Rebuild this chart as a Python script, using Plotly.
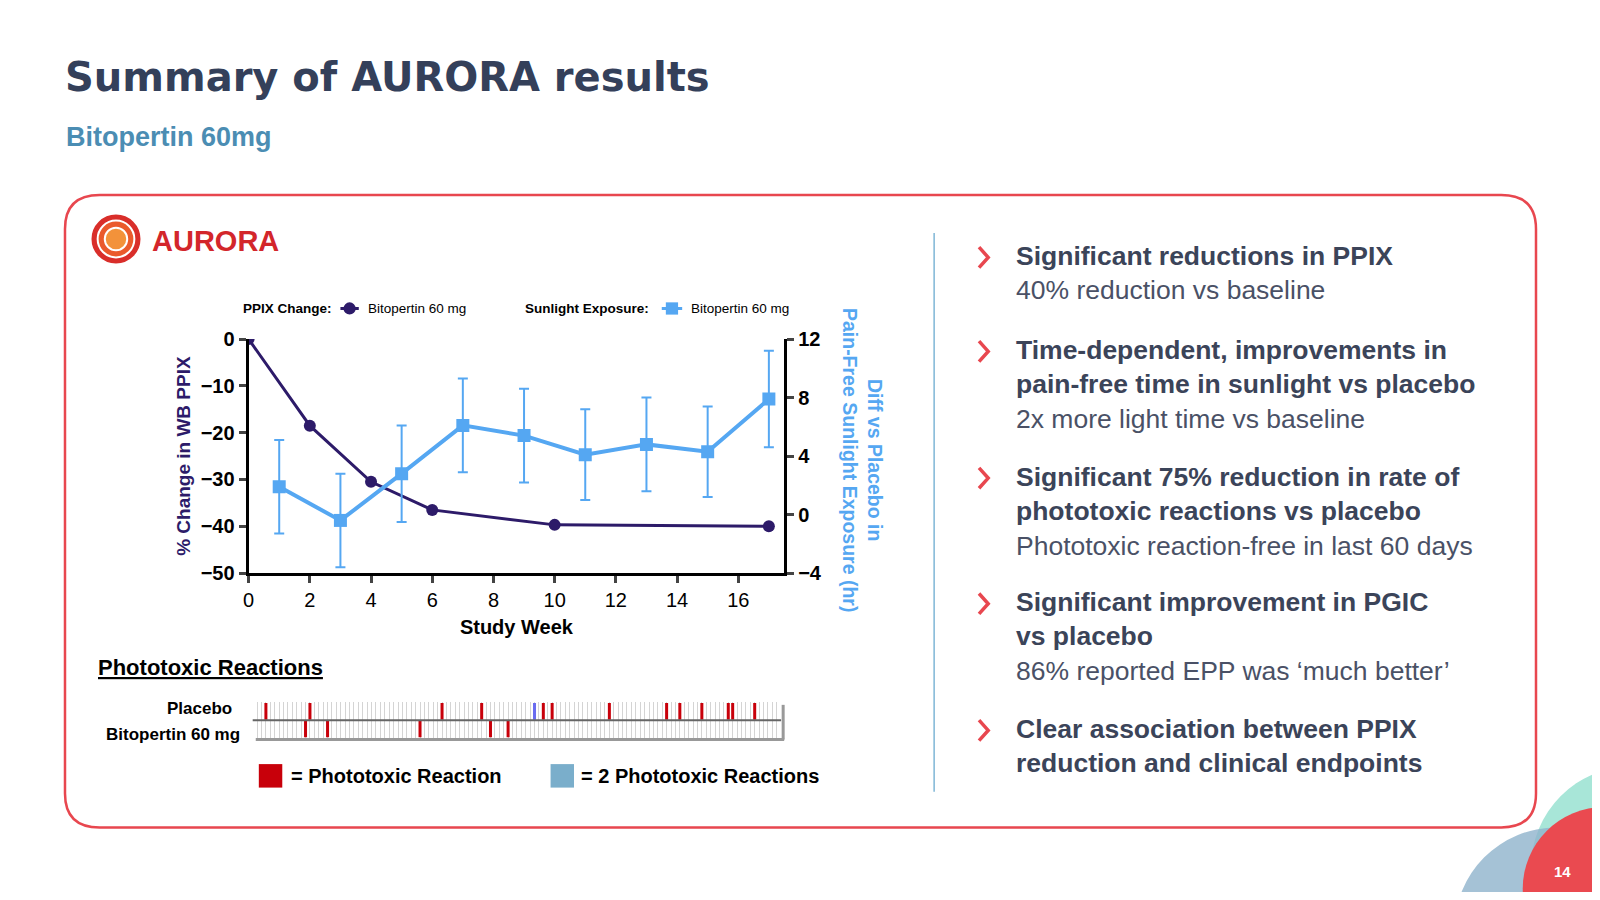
import plotly.graph_objects as go

# PPIX change (% change in whole-blood PPIX)
ppix_week = [0, 2, 4, 6, 10, 17]
ppix_change = [0, -18.5, -30.5, -36.5, -39.7, -40.0]

# Sunlight exposure diff vs placebo (hr)
sun_week = [1, 3, 5, 7, 9, 11, 13, 15, 17]
sun_diff = [1.9, -0.4, 2.8, 6.1, 5.4, 4.1, 4.8, 4.3, 7.9]
sun_err = [3.2, 3.2, 3.3, 3.2, 3.2, 3.1, 3.2, 3.1, 3.3]

# Phototoxic reaction days (strip covers ~120 days)
placebo_days = [3, 13, 43, 52, 66, 68, 81, 94, 97, 102, 108, 109, 114]
placebo_double_days = [64]
bito_days = [12, 17, 38, 54, 58]

bullets = [
    ("Significant reductions in PPIX", "40% reduction vs baseline"),
    ("Time-dependent, improvements in<br>pain-free time in sunlight vs placebo", "2x more light time vs baseline"),
    ("Significant 75% reduction in rate of<br>phototoxic reactions vs placebo", "Phototoxic reaction-free in last 60 days"),
    ("Significant improvement in PGIC<br>vs placebo", "86% reported EPP was \u2018much better\u2019"),
    ("Clear association between PPIX<br>reduction and clinical endpoints", None),
]
bullet_y = [252, 344, 468, 591, 715]

# reference pixel -> paper fraction (fitted to how the page renders)
FW, FH = 1584, 884
def X(px):
    px = (px - 5.2) / 0.9965
    return (px * 1600 / 1568 - 8) / FW
def Y(py):
    py = (py - 11) / 0.974
    return 1 - (py * 900 / 882 - 8) / FH

DARK = "#2d1b69"
LIGHT = "#55a7f2"
RED = "#c8000a"
TXT = "#3b4459"

fig = go.Figure()

fig.add_trace(go.Scatter(x=ppix_week, y=ppix_change, mode="lines+markers",
                         line=dict(color=DARK, width=3), marker=dict(size=12, color=DARK),
                         xaxis="x", yaxis="y", showlegend=False))
fig.add_trace(go.Scatter(x=sun_week, y=sun_diff, mode="lines+markers",
                         line=dict(color=LIGHT, width=4), marker=dict(size=13, symbol="square", color=LIGHT),
                         error_y=dict(type="data", array=sun_err, color=LIGHT, thickness=2, width=5),
                         xaxis="x", yaxis="y2", showlegend=False))

# phototoxic strip
fig.add_trace(go.Scatter(x=placebo_days, y=[1] * len(placebo_days), mode="markers",
                         marker=dict(symbol="line-ns", size=12, line=dict(color=RED, width=3)),
                         xaxis="x2", yaxis="y3", showlegend=False))
fig.add_trace(go.Scatter(x=placebo_double_days, y=[1], mode="markers",
                         marker=dict(symbol="line-ns", size=12, line=dict(color="#6a6cf0", width=3)),
                         xaxis="x2", yaxis="y3", showlegend=False))
fig.add_trace(go.Scatter(x=bito_days, y=[0] * len(bito_days), mode="markers",
                         marker=dict(symbol="line-ns", size=12, line=dict(color=RED, width=3)),
                         xaxis="x2", yaxis="y3", showlegend=False))

tickfont = dict(family="Liberation Sans", size=20, color="black")
axis_common = dict(showgrid=False, zeroline=False, showline=True, linecolor="black", linewidth=3,
                   ticks="outside", ticklen=7, tickwidth=3, tickfont=tickfont,
                   tickprefix="<b>", ticksuffix="</b>")
fig.update_layout(
    width=FW, height=FH, margin=dict(l=0, r=0, t=0, b=0),
    paper_bgcolor="white", plot_bgcolor="rgba(0,0,0,0)",
    font=dict(family="Liberation Sans"),
    xaxis=dict(domain=[X(243), X(768)], range=[0, 17.5], tickvals=list(range(0, 17, 2)),
               title=dict(text="<b>Study Week</b>", font=dict(size=20, color="black"), standoff=10),
               **axis_common),
    yaxis=dict(domain=[Y(561), Y(332)], range=[-50, 0], dtick=10,
               title=dict(text="<b>% Change in WB PPIX</b>", font=dict(size=19, color=DARK), standoff=6),
               **axis_common),
    yaxis2=dict(overlaying="y", side="right", anchor="x", range=[-4, 12], dtick=4, **axis_common),
    xaxis2=dict(domain=[X(247), X(765)], range=[0, 120], anchor="y3", showticklabels=False,
                showgrid=True, gridcolor="#d4d4d4", gridwidth=1, dtick=1, zeroline=False,
                showline=False, ticks=""),
    yaxis3=dict(domain=[Y(723), Y(687)], range=[-0.55, 1.55], anchor="x2", showticklabels=False,
                showgrid=False, zeroline=False, fixedrange=True),
)

shapes = []
# rounded red box
x0, y0, x1, y1, r = X(63), Y(191), X(1505), Y(810), 0.022
ry = r * FW / FH
shapes.append(dict(type="path", xref="paper", yref="paper",
                   path=f"M {x0+r},{y0} L {x1-r},{y0} Q {x1},{y0} {x1},{y0-ry} L {x1},{y1+ry} "
                        f"Q {x1},{y1} {x1-r},{y1} L {x0+r},{y1} Q {x0},{y1} {x0},{y1+ry} "
                        f"L {x0},{y0-ry} Q {x0},{y0} {x0+r},{y0} Z",
                   line=dict(color="#e8474f", width=2.5), fillcolor="rgba(0,0,0,0)"))
shapes.append(dict(type="line", xref="paper", yref="paper", x0=X(915), x1=X(915), y0=Y(228), y1=Y(775),
                   line=dict(color="#7fb6d6", width=1.5)))
# strip frame and divider
shapes.append(dict(type="line", xref="paper", yref="paper", x0=X(247), x1=X(765), y0=Y(705), y1=Y(705),
                   line=dict(color="#666", width=2)))
shapes.append(dict(type="line", xref="paper", yref="paper", x0=X(250), x1=X(768), y0=Y(724), y1=Y(724),
                   line=dict(color="#999", width=3)))
shapes.append(dict(type="line", xref="paper", yref="paper", x0=X(767), x1=X(767), y0=Y(690), y1=Y(724),
                   line=dict(color="#999", width=3)))
# legend squares
shapes.append(dict(type="rect", xref="paper", yref="paper", x0=X(253), x1=X(276), y0=Y(771), y1=Y(748),
                   fillcolor=RED, line=dict(width=0)))
shapes.append(dict(type="rect", xref="paper", yref="paper", x0=X(539), x1=X(562), y0=Y(771), y1=Y(748),
                   fillcolor="#7aaecb", line=dict(width=0)))
# chart legend symbols
shapes.append(dict(type="line", xref="paper", yref="paper", x0=X(333), x1=X(351), y0=Y(302), y1=Y(302),
                   line=dict(color=DARK, width=3)))
shapes.append(dict(type="circle", xref="paper", yref="paper", x0=X(336), x1=X(348), y0=Y(308), y1=Y(296),
                   fillcolor=DARK, line=dict(width=0)))
shapes.append(dict(type="line", xref="paper", yref="paper", x0=X(648), x1=X(668), y0=Y(302), y1=Y(302),
                   line=dict(color=LIGHT, width=3)))
shapes.append(dict(type="rect", xref="paper", yref="paper", x0=X(652), x1=X(664), y0=Y(308), y1=Y(296),
                   fillcolor=LIGHT, line=dict(width=0)))
# logo rings
for i, c in enumerate(["#d92e2a", "#ea5a2c", "#f3923a"]):
    rr = 25 - i * 7
    shapes.append(dict(type="circle", xref="paper", yref="paper", x0=X(113 - rr), x1=X(113 + rr),
                       y0=Y(234 + rr), y1=Y(234 - rr), fillcolor=c, line=dict(color="white", width=2)))
# bullet chevrons
for by in bullet_y:
    shapes.append(dict(type="path", xref="paper", yref="paper",
                       path=f"M {X(959)},{Y(by-10)} L {X(968)},{Y(by)} L {X(959)},{Y(by+10)}",
                       line=dict(color="#e8474f", width=3.5)))
# corner decorations
shapes.append(dict(type="circle", xref="paper", yref="paper", x0=X(1500), x1=X(1700), y0=Y(950), y1=Y(750),
                   fillcolor="#a8e6d8", line=dict(width=0)))
shapes.append(dict(type="circle", xref="paper", yref="paper", x0=X(1425), x1=X(1625), y0=Y(1010), y1=Y(810),
                   fillcolor="#8fb3cc", opacity=0.8, line=dict(width=0)))
shapes.append(dict(type="circle", xref="paper", yref="paper", x0=X(1492), x1=X(1652), y0=Y(950), y1=Y(790),
                   fillcolor="#ea4a50", line=dict(width=0)))
fig.update_layout(shapes=shapes)

ann = []
def txt(px, py, text, size, color, anchor="left", yanchor="middle", family="Liberation Sans", **kw):
    ann.append(dict(x=X(px), y=Y(py), xref="paper", yref="paper", text=text, showarrow=False,
                    xanchor=anchor, yanchor=yanchor, align=anchor if anchor != "center" else "center",
                    font=dict(size=size, color=color, family=family), **kw))

txt(61, 75, "<b>Summary of AURORA results</b>", 40, "#34405a", family="DejaVu Sans")
txt(62, 134, "<b>Bitopertin 60mg</b>", 27, "#4b8db3")
txt(146, 236, "<b>AURORA</b>", 29, "#d3262b")
txt(236, 302, "<b>PPIX Change:</b>", 13.5, "black")
txt(358, 302, "Bitopertin 60 mg", 13.5, "black")
txt(512, 302, "<b>Sunlight Exposure:</b>", 13.5, "black")
txt(675, 302, "Bitopertin 60 mg", 13.5, "black")
txt(845, 450, "<b>Diff vs Placebo in<br>Pain-Free Sunlight Exposure (hr)</b>", 19.5, LIGHT, anchor="center",
    textangle=90)
txt(93, 653, "<b><u>Phototoxic Reactions</u></b>", 22, "black")
txt(229, 694, "<b>Placebo</b>", 17, "black", anchor="right")
txt(237, 719, "<b>Bitopertin 60 mg</b>", 17, "black", anchor="right")
txt(283, 760, "<b>= Phototoxic Reaction</b>", 20, "black")
txt(567, 760, "<b>= 2 Phototoxic Reactions</b>", 20, "black")
txt(1531, 853, "<b>14</b>", 15, "white", anchor="center")

for (head, sub), by in zip(bullets, bullet_y):
    body = f"<b>{head}</b>"
    if sub:
        body += f"<br><span style='color:#4a5166'>{sub}</span>"
    ann.append(dict(x=X(993), y=Y(by - 18), xref="paper", yref="paper", text=body, showarrow=False,
                    xanchor="left", yanchor="top", align="left",
                    font=dict(size=26.5, color=TXT, family="Liberation Sans")))

fig.update_layout(annotations=ann)

fig.write_html("out.html")
